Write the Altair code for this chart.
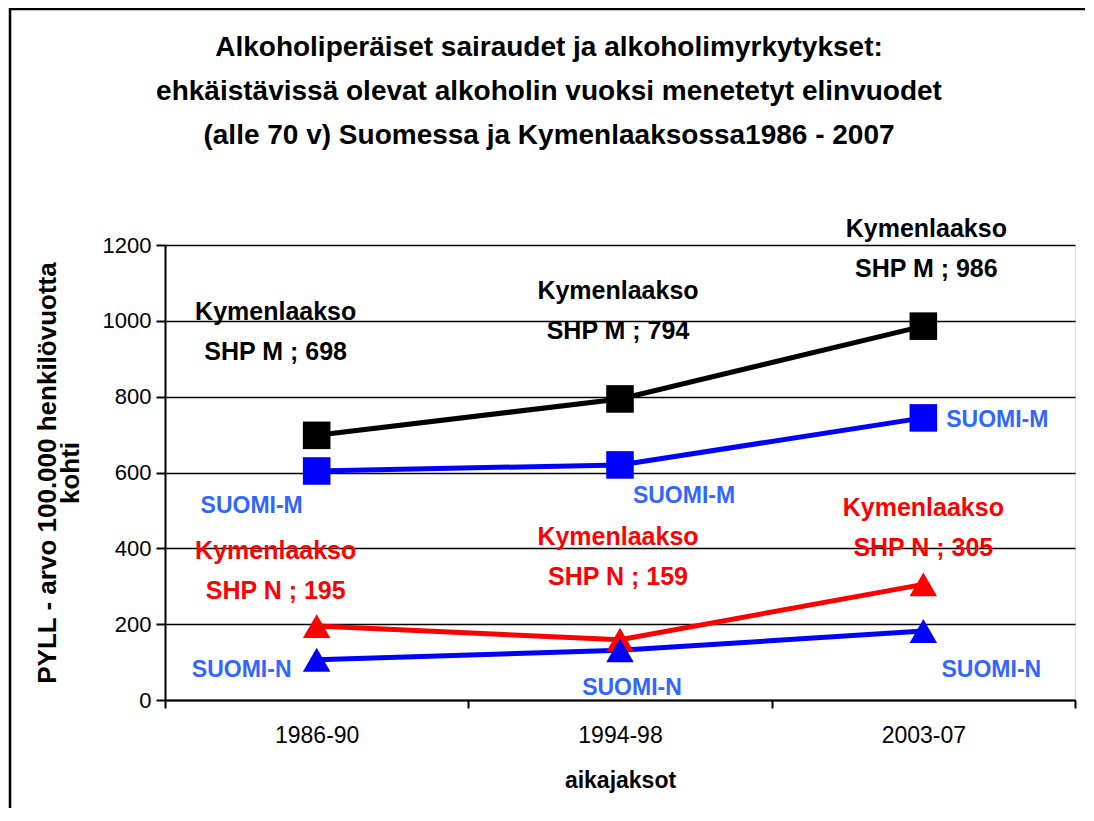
import altair as alt
import pandas as pd

# ---- data ----
periods = ["1986-90", "1994-98", "2003-07"]
kymen_m = [698, 794, 986]
suomi_m = [604, 620, 744]
kymen_n = [195, 159, 305]
suomi_n = [106, 131, 182]

series_names = ["Kymenlaakso SHP M", "SUOMI-M", "Kymenlaakso SHP N", "SUOMI-N"]
series_values = [kymen_m, suomi_m, kymen_n, suomi_n]

title_lines = [
    "Alkoholiperäiset sairaudet ja alkoholimyrkytykset:",
    "ehkäistävissä olevat alkoholin vuoksi menetetyt elinvuodet",
    "(alle 70 v) Suomessa ja Kymenlaaksossa1986 - 2007",
]
y_title = ["PYLL - arvo 100.000 henkilövuotta", "kohti"]
x_title = "aikajaksot"

# ---- styles ----
line_colors = ["#000000", "#0000FF", "#FF0000", "#0000FF"]
label_colors = {"Kymenlaakso SHP M": "#000000", "SUOMI-M": "#3366FF",
                "Kymenlaakso SHP N": "#FF0000", "SUOMI-N": "#3366FF"}
shapes = ["square", "square", "triangle-up", "triangle-up"]
FONT = "Liberation Sans"

rows = []
for s, vals in zip(series_names, series_values):
    for p, v in zip(periods, vals):
        if s.startswith("Kymenlaakso"):
            lab = "Kymenlaakso\n" + s.replace("Kymenlaakso ", "") + " ; " + str(v)
        else:
            lab = s
        rows.append({"series": s, "period": p, "value": v, "label": lab})
df = pd.DataFrame(rows)

# label placement offsets (pixels, relative to the data point)
offsets = {
    ("Kymenlaakso SHP M", "1986-90"): (-41, -123),
    ("Kymenlaakso SHP M", "1994-98"): (-2, -108),
    ("Kymenlaakso SHP M", "2003-07"): (3, -97),
    ("Kymenlaakso SHP N", "1986-90"): (-41, -75),
    ("Kymenlaakso SHP N", "1994-98"): (-2, -103),
    ("Kymenlaakso SHP N", "2003-07"): (0, -76),
    ("SUOMI-M", "1986-90"): (-65, 35),
    ("SUOMI-M", "1994-98"): (64, 31),
    ("SUOMI-M", "2003-07"): (74, 2),
    ("SUOMI-N", "1986-90"): (-75, 10),
    ("SUOMI-N", "1994-98"): (12, 38),
    ("SUOMI-N", "2003-07"): (68, 39),
}

W, H = 910, 455

x_enc = alt.X("period:N", sort=periods,
              scale=alt.Scale(type="band", paddingInner=0, paddingOuter=0),
              axis=alt.Axis(title=x_title, labelAngle=0, tickBand="extent",
                            labelFont=FONT, labelFontSize=23, labelColor="#000",
                            labelPadding=16, tickSize=8, tickColor="#000",
                            tickWidth=2, domainColor="#000", domainWidth=2,
                            titleFont=FONT, titleFontSize=23, titleFontWeight="bold",
                            titleColor="#000", titlePadding=22, grid=False))
y_enc = alt.Y("value:Q",
              scale=alt.Scale(domain=[0, 1200], nice=False, zero=True),
              axis=alt.Axis(title=y_title, values=list(range(0, 1201, 200)), format="d",
                            labelFont=FONT, labelFontSize=22, labelColor="#000",
                            labelPadding=5, tickSize=9, tickColor="#000",
                            tickWidth=2, domainColor="#000", domainWidth=2,
                            grid=True, gridColor="#000", gridWidth=1.5, gridOpacity=1,
                            titleFont=FONT, titleFontSize=26, titleFontWeight="bold",
                            titleColor="#000", titlePadding=19, titleLineHeight=23))

color_enc = alt.Color("series:N", scale=alt.Scale(domain=series_names, range=line_colors),
                      legend=None)
shape_enc = alt.Shape("series:N", scale=alt.Scale(domain=series_names, range=shapes),
                      legend=None)

base = alt.Chart(df)

lines = base.mark_line(strokeWidth=5).encode(
    x=x_enc, y=y_enc, color=color_enc, detail="series:N")
points = base.mark_point(filled=True, opacity=1, size=760).encode(
    x=x_enc, y=y_enc, color=color_enc, shape=shape_enc)

layers = [lines, points]
for (s, p), (dx, dy) in offsets.items():
    big = s.startswith("Kymenlaakso")
    t = base.transform_filter(
        (alt.datum.series == s) & (alt.datum.period == p)
    ).mark_text(
        dx=dx, dy=dy, font=FONT, fontWeight="bold",
        fontSize=25 if big else 23, lineBreak="\n", lineHeight=40,
        baseline="middle", align="center", color=label_colors[s]
    ).encode(x=x_enc, y=y_enc, text="label:N")
    layers.append(t)

one = alt.Data(values=[{"a": 1}])

# chart title, drawn as text above the plot area
title = alt.Chart(one).mark_text(
    font=FONT, fontSize=28, fontWeight="bold", color="#000",
    lineBreak="\n", lineHeight=44, baseline="middle", align="center"
).encode(x=alt.value(W / 2 - 71), y=alt.value(-197),
         text=alt.value("\n".join(title_lines)))
layers.append(title)

# outer chart frame
frame = alt.Chart(one).mark_rect(
    fill=None, stroke="#000", strokeWidth=2.5
).encode(x=alt.value(-155), x2=alt.value(W + 200),
         y=alt.value(-236), y2=alt.value(H + 300))
layers.append(frame)

chart = alt.layer(*layers).properties(
    width=W, height=H,
    autosize=alt.AutoSizeParams(type="none"),
    padding={"left": 157, "top": 237, "right": 10, "bottom": 108},
).configure_view(stroke="#808080", strokeWidth=2).configure(background="white")

chart.save("out.html", embed_options={"renderer": "svg", "actions": False})
